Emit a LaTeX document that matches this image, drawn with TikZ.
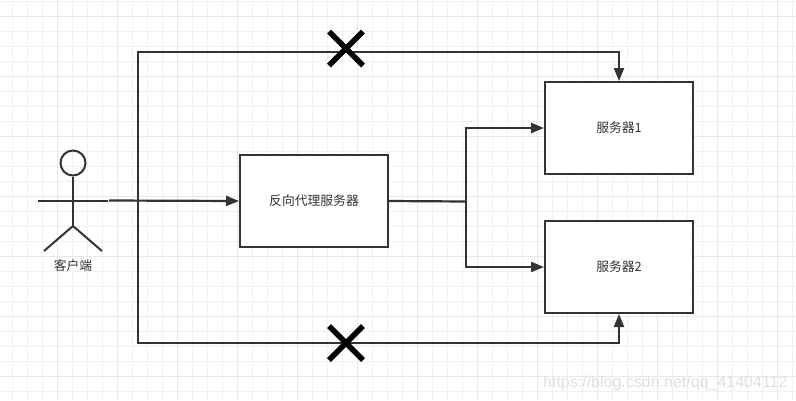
\documentclass[tikz,border=0pt]{standalone}
\usepackage{fontspec}
\newfontfamily\cjk{Noto Sans CJK SC}
\setmainfont{Liberation Sans}
\usetikzlibrary{arrows.meta,calc}
\definecolor{ink}{HTML}{333333}
\tikzset{
  px/.style={x=1pt,y=-1pt},
  box/.style={draw=ink,fill=white,line width=2pt,minimum width=148pt,minimum height=92pt,inner sep=0pt,font=\cjk\fontsize{12.8}{14}\selectfont,text=ink},
  link/.style={draw=ink,line width=2.2pt},
  arrowlink/.style={link,-{Triangle[length=13pt,width=10pt]}},
  stick/.style={draw=ink,line width=2pt},
  crossmark/.style={draw=black,line width=5.5pt},
  thin grid/.style={draw=black!6,line width=1.2pt},
  major grid/.style={draw=black!9,line width=1.4pt}
}
\begin{document}
\begin{tikzpicture}[px]
\useasboundingbox (0,0) rectangle (796,400);
\fill[white] (0,0) rectangle (796,400);
\foreach \i in {0,...,53} \draw[thin grid] ({12.7+15*\i},0) -- ({12.7+15*\i},400);
\foreach \i in {0,...,26} \draw[thin grid] (0,{1.4+15*\i}) -- (796,{1.4+15*\i});
\foreach \i in {0,...,12} \draw[major grid] ({57.7+60*\i},0) -- ({57.7+60*\i},400);
\foreach \i in {0,...,6} \draw[major grid] (0,{16.4+60*\i}) -- (796,{16.4+60*\i});

\node[box] (proxy) at (314,201) {反向代理服务器};
\node[box] (s1) at (619,128) {服务器1};
\node[box] (s2) at (619,267) {服务器2};

% actor
\node[circle,draw=ink,line width=2pt,minimum size=25pt,inner sep=0pt] (head) at (73,163) {};
\coordinate (armL) at (38,201);
\coordinate (armR) at (108,201);
\coordinate (hip) at (73,226);
\coordinate (footL) at (44,251);
\coordinate (footR) at (102,251);
\draw[stick] (head.south) -- (hip);
\draw[stick] (armL) -- (armR);
\draw[stick] (footL) -- (hip) -- (footR);
\node[font=\cjk\fontsize{12.8}{14}\selectfont,text=ink,inner sep=0pt] (lbl) at (73,266) {客户端};

% connectors
\coordinate (start) at (109,200.5);
\coordinate (jct) at (138,201);
\coordinate (fork) at (466,201.5);
\draw[arrowlink] (start) -- (proxy.west);
\draw[arrowlink] (jct) |- (619,52) -- (s1.north);
\draw[arrowlink] (jct) |- (619,343) -- (s2.south);
\draw[link] (proxy.east) -- (fork);
\draw[arrowlink] (fork) |- (s1.west);
\draw[arrowlink] (fork) |- (s2.west);

% crosses
\coordinate (x1) at (346,48.5);
\coordinate (x2) at (346,343);
\foreach \c in {x1,x2} {
  \draw[crossmark] ($(\c)+(-17,-17)$) -- ($(\c)+(17,17)$);
  \draw[crossmark] ($(\c)+(-17,17)$) -- ($(\c)+(17,-17)$);
}

% watermark
\node[anchor=west,inner sep=0pt,text=black!12,font=\fontsize{16}{18}\selectfont] (wm) at (543,383) {https://blog.csdn.net/qq\_41404112};
\end{tikzpicture}
\end{document}
